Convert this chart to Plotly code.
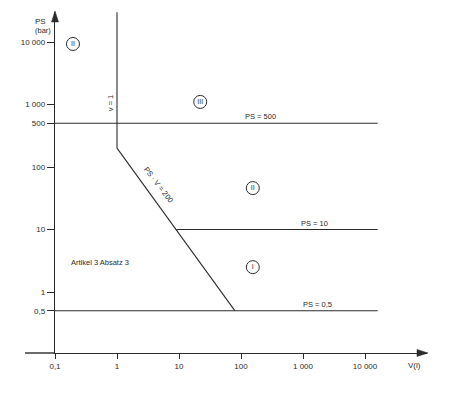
import math
import plotly.graph_objects as go

# ---- data ----
x_ticks = [0.1, 1, 10, 100, 1000, 10000]
x_ticktext = ["0,1", "1", "10", "100", "1 000", "10 000"]
y_ticks = [0.5, 1, 10, 100, 500, 1000, 10000]
y_ticktext = ["0,5", "1", "10", "100", "500", "1 000", "10 000"]

line_ps500_v = [0.1, 16000]
line_ps500_ps = [500, 500]
line_ps10_v = [9, 16000]
line_ps10_ps = [10, 10]
line_ps05_v = [0.1, 16000]
line_ps05_ps = [0.5, 0.5]
line_v1_v = [1, 1]
line_v1_ps = [200, 30000]
line_psv_v = [1, 80]
line_psv_ps = [200, 0.5]

zone_labels = ["II", "III", "II", "I"]
zone_v = [0.195, 22, 155, 155]
zone_ps = [9300, 1100, 46, 2.5]

INK = "#2b2b2b"
FONT = "Liberation Sans, Arial, sans-serif"

fig = go.Figure()

for xs, ys in [(line_ps500_v, line_ps500_ps), (line_ps10_v, line_ps10_ps),
               (line_ps05_v, line_ps05_ps), (line_v1_v, line_v1_ps),
               (line_psv_v, line_psv_ps)]:
    fig.add_trace(go.Scatter(x=xs, y=ys, mode="lines",
                             line=dict(color=INK, width=1.1),
                             hoverinfo="skip", showlegend=False))

fig.add_trace(go.Scatter(
    x=zone_v, y=zone_ps, mode="markers+text", text=zone_labels,
    textposition="middle center",
    textfont=dict(family=FONT, size=7, color=INK),
    marker=dict(symbol="circle", size=13, color="white",
                line=dict(color=INK, width=1)),
    hoverinfo="skip", showlegend=False))

L = math.log10
ann_font = dict(family=FONT, size=7.5, color=INK)
annotations = [
    dict(x=L(210), y=L(500), text="PS = 500", showarrow=False,
         yanchor="bottom", yshift=0, font=ann_font),
    dict(x=L(1550), y=L(10), text="PS = 10", showarrow=False,
         yanchor="bottom", yshift=0, font=ann_font),
    dict(x=L(1700), y=L(0.5), text="PS = 0,5", showarrow=False,
         yanchor="bottom", yshift=0, font=ann_font),
    dict(x=L(1), y=L(1050), text="v = 1", showarrow=False, textangle=-90,
         xshift=-7, font=ann_font),
    dict(x=L(4.6), y=L(52), text="PS · V = 200", showarrow=False,
         textangle=52.5, font=ann_font),
    dict(x=L(0.53), y=L(3.0), text="Artikel 3 Absatz 3", showarrow=False,
         font=ann_font),
    dict(x=-0.059, y=0.991, xref="paper", yref="paper", text="PS",
         showarrow=False, font=dict(family=FONT, size=8, color=INK)),
    dict(x=-0.059, y=0.965, xref="paper", yref="paper", text="(bar)",
         showarrow=False, font=dict(family=FONT, size=7.5, color=INK)),
    dict(x=0.99, y=0, xref="paper", yref="paper", text="V(l)",
         yanchor="top", yshift=-6,
         showarrow=False, font=dict(family=FONT, size=8, color=INK)),
]

shapes = [
    # extension of x axis to the left of the origin
    dict(type="line", xref="paper", yref="paper", x0=-0.0806, x1=0, y0=0, y1=0,
         line=dict(color=INK, width=1.4)),
    # arrow heads
    dict(type="path", xref="paper", yref="paper", xsizemode="pixel",
         ysizemode="pixel", xanchor=0, yanchor=1,
         path="M 0 1 L -3.5 -10 L 3.5 -10 Z", fillcolor=INK,
         line=dict(color=INK, width=0.5)),
    dict(type="path", xref="paper", yref="paper", xsizemode="pixel",
         ysizemode="pixel", xanchor=1, yanchor=0,
         path="M 1 0 L -10 3.5 L -10 -3.5 Z", fillcolor=INK,
         line=dict(color=INK, width=0.5)),
]

# page body has an 8px default margin, so the figure is 8px smaller
fig.update_layout(
    width=441, height=386,
    margin=dict(l=47, r=22, t=4, b=41),
    paper_bgcolor="white", plot_bgcolor="white",
    font=dict(family=FONT, size=8, color=INK),
    annotations=annotations, shapes=shapes,
    xaxis=dict(type="log", range=[-1, 5], tickmode="array",
               tickvals=x_ticks, ticktext=x_ticktext,
               showgrid=False, zeroline=False, showline=True,
               linecolor=INK, linewidth=1.4, ticks="outside", ticklen=5,
               tickcolor=INK, tickwidth=1,
               tickfont=dict(family=FONT, size=8, color=INK)),
    yaxis=dict(type="log", range=[-0.976, 4.48], tickmode="array",
               tickvals=y_ticks, ticktext=y_ticktext,
               showgrid=False, zeroline=False, showline=True,
               linecolor=INK, linewidth=1.4, ticks="outside", ticklen=7,
               tickcolor=INK, tickwidth=1,
               tickfont=dict(family=FONT, size=8, color=INK)),
)

fig.write_html("out.html")
